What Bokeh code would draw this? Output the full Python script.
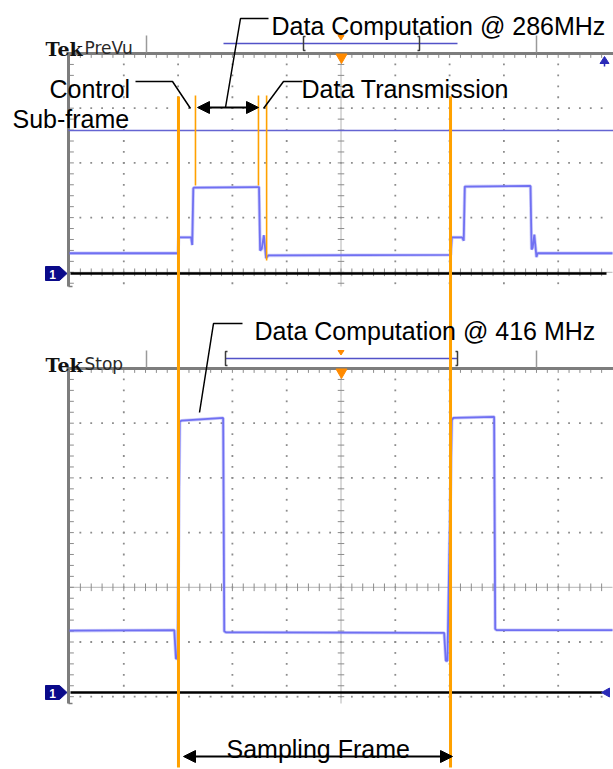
from bokeh.plotting import figure
from bokeh.models import Range1d, Arrow, NormalHead
from bokeh.embed import file_html
from bokeh.resources import INLINE
from bokeh.core.properties import value

# ---------------- data (scope units: time in divisions, level in divisions above CH1 ground) ----
top_t = [0.00, 2.00, 2.01, 2.24, 2.26, 2.28, 2.30, 3.49, 3.51, 3.54, 3.58, 3.62, 3.66,
         7.02, 7.04, 7.23, 7.26, 7.28, 8.49, 8.51, 8.53, 8.56, 8.60, 8.62, 10.00]
top_v = [0.37, 0.37, 0.66, 0.66, 0.52, 1.56, 1.57, 1.58, 0.42, 0.45, 0.70, 0.28, 0.33,
         0.34, 0.66, 0.66, 0.60, 1.59, 1.60, 0.44, 0.47, 0.71, 0.30, 0.37, 0.37]

bot_t = [0.00, 1.93, 1.96, 1.99, 2.03, 2.06, 2.83, 2.85, 2.88,
         6.90, 6.93, 6.96, 7.04, 7.07, 7.82, 7.84, 7.87, 10.00]
bot_v = [1.13, 1.14, 0.62, 0.62, 4.95, 4.97, 5.02, 1.12, 1.10,
         1.09, 0.58, 0.58, 4.98, 5.02, 5.04, 1.16, 1.14, 1.14]

frame_cursors = [2.007, 7.017]          # sampling frame boundaries (div)
sub_cursors = [2.32, 3.48, 3.63]         # control / computation / transmission boundaries (div)

ann_text = ["Data Computation @ 286MHz", "Control", "Sub-frame", "Data Transmission",
            "Data Computation @ 416 MHz", "Sampling Frame"]
tek_labels = ["Tek", "Tek"]
mode_labels = ["PreVu", "Stop"]
channel_label = "1"

# ---------------- layout helpers ----------------
GX0, DX = 69.0, 54.3     # screen px of left graticule edge, px per division
GY0, DY = 53.0, 54.7


def X(px):
    return (px - GX0) / DX


def Y(py):
    return (py - GY0) / DY


TOP_TOP, TOP_BOT, TOP_GND = Y(53), Y(286), Y(273)
BOT_TOP, BOT_BOT, BOT_GND = Y(368), Y(703), Y(692)

ORANGE = "#ffa100"
TRACE = "#7070f2"
GRAY = "#8c8c8c"
FRAME = "#7d7d7d"

W, H = 613, 769
p = figure(width=W, height=H, x_range=Range1d(X(0), X(W)),
           y_range=Range1d(Y(H), Y(0)), output_backend="svg",
           toolbar_location=None, x_axis_location=None, y_axis_location=None,
           min_border=0, min_border_left=0, min_border_right=0,
           min_border_top=0, min_border_bottom=0)
p.grid.visible = False
p.outline_line_color = None
p.background_fill_color = "white"
p.border_fill_color = "white"

minor = [k * 0.2 for k in range(1, 50)]


def panel(top, bot, rows, center_row):
    # dotted graticule
    dx, dy = [], []
    nrow = int((bot - top) / 0.2 + 1e-6)
    for i in [1, 2, 3, 4, 6, 7, 8, 9]:
        for k in range(1, nrow + 1):
            dx.append(i)
            dy.append(top + k * 0.2)
    for j in rows:
        for m in minor:
            dx.append(m)
            dy.append(top + j)
    p.scatter(dx, dy, marker="square", size=1.8, fill_color=GRAY, line_color=None)
    # center vertical axis with ticks
    p.line([5, 5], [top, bot], line_color="#b4b4b4", line_width=1)
    ty = [top + k * 0.2 for k in range(1, nrow + 1)]
    p.segment([5 - 0.06] * len(ty), ty, [5 + 0.06] * len(ty), ty, line_color=GRAY, line_width=1)
    # center horizontal axis with ticks
    cy = top + center_row
    if cy < bot:
        p.line([0, 10], [cy, cy], line_color="#b4b4b4", line_width=1)
        p.segment(minor, [cy - 0.07] * len(minor), minor, [cy + 0.07] * len(minor),
                  line_color=GRAY, line_width=1)
    # frame ticks
    p.segment(minor, [top] * len(minor), minor, [top + 0.08] * len(minor),
              line_color=GRAY, line_width=1)
    p.segment([0] * len(ty), ty, [0.08] * len(ty), ty, line_color=GRAY, line_width=1)
    # frame
    p.line([X(66), X(613)], [top, top], line_color=FRAME, line_width=3)
    p.line([X(68), X(68)], [top, bot], line_color=FRAME, line_width=3)
    p.line([X(68), X(72)], [bot, bot], line_color=FRAME, line_width=1.5)


panel(TOP_TOP, TOP_BOT, [1, 2, 3], 4)
panel(BOT_TOP, BOT_BOT, [1, 2, 3, 5, 6], 4)

# blue cursor line in PreVu panel
p.line([X(68), X(613)], [Y(130), Y(130)], line_color="#6464d2", line_width=1.5)

# traces (soft halo + core to suggest the scope's trace width)
for tt, vv, g in ((top_t, top_v, TOP_GND), (bot_t, bot_v, BOT_GND)):
    ys = [g - v for v in vv]
    p.line(tt, ys, line_color=TRACE, line_width=3.4, line_alpha=0.35)
    p.line(tt, ys, line_color=TRACE, line_width=1.8)

# ground lines
p.line([X(70), X(606)], [TOP_GND, TOP_GND], line_color="black", line_width=2.6)
p.line([X(70), X(602)], [BOT_GND, BOT_GND], line_color="black", line_width=2.6)

# channel markers
for g in (273, 692):
    p.patch([X(45), X(59), X(66.5), X(59), X(45)],
            [Y(g - 7), Y(g - 7), Y(g), Y(g + 7), Y(g + 7)],
            fill_color="#0a0a8a", line_color="#0a0a8a")
    p.text([X(52)], [Y(g + 0.5)], text=[channel_label], text_color="white",
           text_font=value("Liberation Sans"), text_font_style="bold",
           text_font_size="12px", text_align="center", text_baseline="middle")

# right side markers
p.patch([X(604), X(599.5), X(608.5)], [Y(56), Y(63), Y(63)],
        fill_color="#2a2ab8", line_color="#2a2ab8")
p.line([X(604), X(604)], [Y(62), Y(66)], line_color="#2a2ab8", line_width=1.5)
p.patch([X(601), X(609), X(609)], [Y(692), Y(687.5), Y(696.5)],
        fill_color="#2a2ab8", line_color="#2a2ab8")

# headers
for off, br_l, br_r, bl_l in ((0, 303, 419, 223), (315, 225, 457, 225)):
    hy = 43 + off
    p.line([X(146), X(146)], [Y(35 + off), Y(52 + off)], line_color="#9a9a9a", line_width=1.5)
    p.line([X(536), X(536)], [Y(35 + off), Y(52 + off)], line_color="#9a9a9a", line_width=1.5)
    p.line([X(bl_l), X(457)], [Y(hy), Y(hy)], line_color="#5252c8", line_width=1.5)
    p.multi_line([[X(br_l + 2), X(br_l), X(br_l), X(br_l + 2)],
                  [X(br_r - 2), X(br_r), X(br_r), X(br_r - 2)]],
                 [[Y(36 + off), Y(36 + off), Y(50 + off), Y(50 + off)]] * 2,
                 line_color="#3c3c3c", line_width=1.5)
    p.patch([X(337.5), X(343.5), X(340.5)], [Y(35 + off), Y(35 + off), Y(39.5 + off)],
            fill_color="#ff8a00", line_color="#ff8a00")
    p.patch([X(335.5), X(346.5), X(341)], [Y(53.5 + off), Y(53.5 + off), Y(63 + off)],
            fill_color="#ff8a00", line_color="#ff8a00")

p.text([X(45), X(45)], [Y(48.5), Y(364)], text=tek_labels, text_color="#111111",
       text_font=value("DejaVu Serif"), text_font_style="bold",
       text_font_size="19px", text_baseline="alphabetic")
p.text([X(84), X(84)], [Y(47.5), Y(363)], text=mode_labels, text_color="#2a2a2a",
       text_font=value("DejaVu Sans"), text_font_size="17px", text_baseline="alphabetic")

# orange cursors
for t in frame_cursors:
    p.line([t, t], [Y(96), Y(767)], line_color=ORANGE, line_width=3)
for t, y1 in zip(sub_cursors, [185, 185, 260]):
    p.line([t, t], [Y(95), Y(y1)], line_color=ORANGE, line_width=1.6)

# annotations
p.text([X(271), X(49), X(12), X(301), X(254), X(226)],
       [Y(25), Y(88), Y(118), Y(88), Y(330), Y(748)],
       text=ann_text, text_color="black", text_font=value("Liberation Sans"),
       text_font_size="25px", text_baseline="alphabetic")

p.multi_line([[X(268), X(240), X(225)], [X(135), X(172), X(190)],
              [X(302), X(283), X(263)], [X(242), X(213), X(199)]],
             [[Y(18), Y(18), Y(107)], [Y(81), Y(81), Y(108)],
              [Y(81), Y(81), Y(108)], [Y(323), Y(323), Y(412)]],
             line_color="black", line_width=1.5)

for xa, xb, ya in ((197, 258, 107), (183, 452, 756)):
    p.add_layout(Arrow(x_start=X(xa), y_start=Y(ya), x_end=X(xb), y_end=Y(ya),
                       line_color="black", line_width=2,
                       start=NormalHead(size=12, fill_color="black", line_color="black"),
                       end=NormalHead(size=12, fill_color="black", line_color="black")))

open("out.html", "w").write(file_html(p, INLINE))
